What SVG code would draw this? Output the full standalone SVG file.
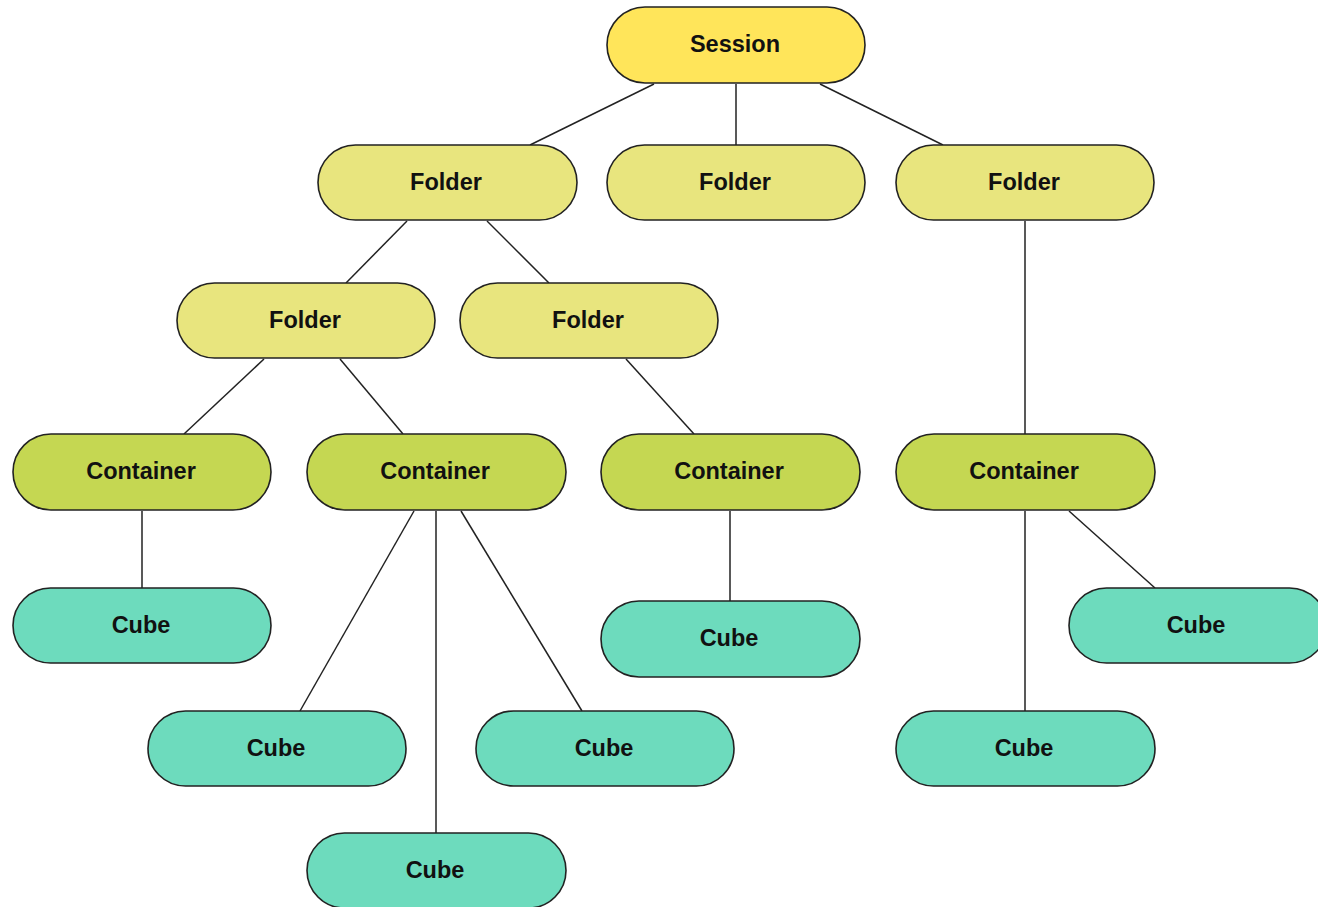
<svg xmlns="http://www.w3.org/2000/svg" width="1318" height="907" viewBox="0 0 1318 907">
  <style>
    .node rect { stroke: #222; stroke-width: 1.6; }
    .session rect { fill: #FFE55A; }
    .folder rect { fill: #E8E57E; }
    .container rect { fill: #C5D752; }
    .cube rect { fill: #6DDBBD; }
    .node text { font-family: "Liberation Sans", Arial, sans-serif; font-weight: bold; font-size: 23.5px; fill: #111; text-anchor: middle; dominant-baseline: central; }
    #edges line { stroke: #222; stroke-width: 1.5; }
  </style>
  <rect width="1318" height="907" fill="#fff"/>

  <g id="edges">
    <line x1="654" y1="84" x2="530" y2="145"/>
    <line x1="736" y1="84" x2="736" y2="145"/>
    <line x1="820" y1="84" x2="943" y2="145"/>
    <line x1="407" y1="221" x2="346" y2="283"/>
    <line x1="487" y1="221" x2="549" y2="283"/>
    <line x1="1025" y1="221" x2="1025" y2="434"/>
    <line x1="264" y1="359" x2="184" y2="434"/>
    <line x1="340" y1="359" x2="403" y2="434"/>
    <line x1="626" y1="359" x2="694" y2="434"/>
    <line x1="142" y1="511" x2="142" y2="588"/>
    <line x1="414" y1="511" x2="300" y2="711"/>
    <line x1="436" y1="511" x2="436" y2="833"/>
    <line x1="461" y1="511" x2="582" y2="711"/>
    <line x1="730" y1="511" x2="730" y2="601"/>
    <line x1="1069" y1="511" x2="1155" y2="588"/>
    <line x1="1025" y1="511" x2="1025" y2="711"/>
  </g>

  <g id="session" class="node session"><rect x="607" y="7" width="258" height="76" rx="38"/><text x="735" y="44">Session</text></g>

  <g id="folder-a" class="node folder"><rect x="318" y="145" width="259" height="75" rx="37.5"/><text x="446" y="182">Folder</text></g>
  <g id="folder-b" class="node folder"><rect x="607" y="145" width="258" height="75" rx="37.5"/><text x="735" y="182">Folder</text></g>
  <g id="folder-c" class="node folder"><rect x="896" y="145" width="258" height="75" rx="37.5"/><text x="1024" y="182">Folder</text></g>
  <g id="folder-a1" class="node folder"><rect x="177" y="283" width="258" height="75" rx="37.5"/><text x="305" y="320">Folder</text></g>
  <g id="folder-a2" class="node folder"><rect x="460" y="283" width="258" height="75" rx="37.5"/><text x="588" y="320">Folder</text></g>

  <g id="container-1" class="node container"><rect x="13" y="434" width="258" height="76" rx="38"/><text x="141" y="471">Container</text></g>
  <g id="container-2" class="node container"><rect x="307" y="434" width="259" height="76" rx="38"/><text x="435" y="471">Container</text></g>
  <g id="container-3" class="node container"><rect x="601" y="434" width="259" height="76" rx="38"/><text x="729" y="471">Container</text></g>
  <g id="container-4" class="node container"><rect x="896" y="434" width="259" height="76" rx="38"/><text x="1024" y="471">Container</text></g>

  <g id="cube-1" class="node cube"><rect x="13" y="588" width="258" height="75" rx="37.5"/><text x="141" y="625">Cube</text></g>
  <g id="cube-2" class="node cube"><rect x="148" y="711" width="258" height="75" rx="37.5"/><text x="276" y="748">Cube</text></g>
  <g id="cube-3" class="node cube"><rect x="307" y="833" width="259" height="75" rx="37.5"/><text x="435" y="870">Cube</text></g>
  <g id="cube-4" class="node cube"><rect x="476" y="711" width="258" height="75" rx="37.5"/><text x="604" y="748">Cube</text></g>
  <g id="cube-5" class="node cube"><rect x="601" y="601" width="259" height="76" rx="38"/><text x="729" y="638">Cube</text></g>
  <g id="cube-6" class="node cube"><rect x="1069" y="588" width="258" height="75" rx="37.5"/><text x="1196" y="625">Cube</text></g>
  <g id="cube-7" class="node cube"><rect x="896" y="711" width="259" height="75" rx="37.5"/><text x="1024" y="748">Cube</text></g>
</svg>
